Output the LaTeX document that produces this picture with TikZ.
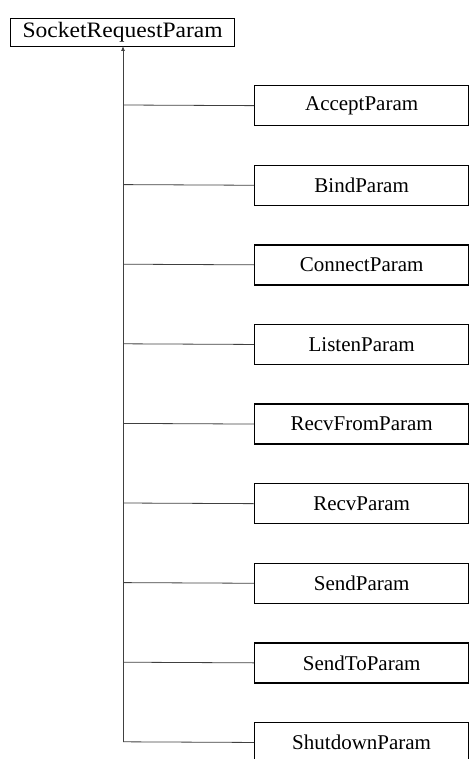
\documentclass[tikz,border=0pt]{standalone}
\usepackage{fontspec}
\setmainfont{Liberation Serif}
\usetikzlibrary{arrows.meta}
\begin{document}
\begin{tikzpicture}[x=1pt,y=-1pt,
  cls/.style={draw=black,line width=1.3pt,fill=white,inner sep=0pt,anchor=north west,font=\fontsize{21}{24}\selectfont},
  conn/.style={draw=black!75,line width=0.8pt}]
\useasboundingbox (0,0) rectangle (469,759);
\clip (0,0) rectangle (469,759);
\node[cls,minimum width=224pt,minimum height=28pt,font=\fontsize{22}{24}\selectfont] (root) at (10,18) {\scalebox{1.07}[1]{SocketRequestParam}};
\coordinate (trunk) at (123,46);
\foreach \n/\t [count=\i from 0] in {acc/AcceptParam,bind/BindParam,conn/ConnectParam,lis/ListenParam,rfrom/RecvFromParam,recv/RecvParam,send/SendParam,sto/SendToParam,shut/ShutdownParam}{
  \node[cls,minimum width=214pt,minimum height=40pt] (\n) at (254,{85+79.6*\i}) {\t};
  \coordinate (j\i) at (123,{105+79.6*\i});
  \draw[conn] (j\i) -- (\n.west);
}
\draw[conn,-{Latex[length=5pt,width=4pt]}] (j8) -- (trunk);
\end{tikzpicture}
\end{document}
